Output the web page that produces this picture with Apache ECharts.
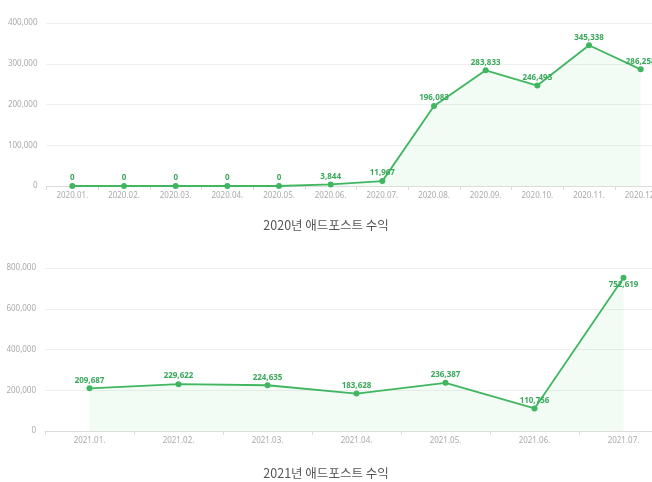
<!DOCTYPE html>
<html><head><meta charset="utf-8">
<script src="https://cdn.jsdelivr.net/npm/echarts@6/dist/echarts.min.js"></script>
<style>html,body{margin:0;padding:0;background:#fff}#c{width:652px;height:482px}</style>
</head><body><div id="c"></div>
<script>
const months2020 = ['2020.01.','2020.02.','2020.03.','2020.04.','2020.05.','2020.06.','2020.07.','2020.08.','2020.09.','2020.10.','2020.11.','2020.12.'];
const revenue2020 = [0,0,0,0,0,3844,11967,196083,283833,246493,345338,286258];
const months2021 = ['2021.01.','2021.02.','2021.03.','2021.04.','2021.05.','2021.06.','2021.07.'];
const revenue2021 = [209687,229622,224635,183628,236387,110756,752619];
const title2020 = '2020년 애드포스트 수익';
const title2021 = '2021년 애드포스트 수익';

const GREEN = '#40b660';
const LABEL_GREEN = '#3aa85a';
const fmt = v => Number(v).toLocaleString('en-US');

function xAxis(gridIndex, data){
  return {type:'category', gridIndex, data, boundaryGap:true,
    axisLine:{lineStyle:{color:'#dcdcdc'}},
    axisTick:{show:true, length:4, lineStyle:{color:'#dcdcdc'}},
    axisLabel:{color:'#aaa', fontSize:8, margin:6, fontFamily:'Noto Sans'}};
}
function yAxis(gridIndex, max, interval){
  return {type:'value', gridIndex, min:0, max, interval,
    axisLine:{show:false}, axisTick:{show:false},
    splitLine:{lineStyle:{color:'#efefef'}},
    axisLabel:{color:'#aaa', fontSize:8, margin:9, fontFamily:'Noto Sans', formatter:fmt}};
}
function series(idx, values, bottomIdx){
  return {type:'line', xAxisIndex:idx, yAxisIndex:idx,
    data: values.map((v,i)=> i===bottomIdx ? {value:v, label:{position:'bottom', distance:0}} : v),
    symbol:'circle', symbolSize:6,
    itemStyle:{color:GREEN},
    lineStyle:{color:GREEN, width:1.8},
    areaStyle:{color:'rgba(80,200,110,0.10)'},
    label:{show:true, position:'top', distance:1, color:LABEL_GREEN, fontSize:8, fontWeight:'bold', fontFamily:'Noto Sans', formatter:p=>fmt(p.value)}};
}

const chart = echarts.init(document.getElementById('c'));
chart.setOption({
  backgroundColor:'#fff',
  animation:false,
  title:[
    {text:title2020, left:'center', top:214, textStyle:{fontSize:12.5, fontWeight:'normal', color:'#555', fontFamily:'Noto Sans CJK KR'}},
    {text:title2021, left:'center', top:462, textStyle:{fontSize:12.5, fontWeight:'normal', color:'#555', fontFamily:'Noto Sans CJK KR'}}
  ],
  grid:[
    {left:46.5, top:23, width:620, height:163, outerBoundsMode:'none', containLabel:false},
    {left:45, top:268, width:623, height:163, outerBoundsMode:'none', containLabel:false}
  ],
  xAxis:[xAxis(0, months2020), xAxis(1, months2021)],
  yAxis:[yAxis(0, 400000, 100000), yAxis(1, 800000, 200000)],
  series:[series(0, revenue2020, -1), series(1, revenue2021, 6)]
});
</script></body></html>
